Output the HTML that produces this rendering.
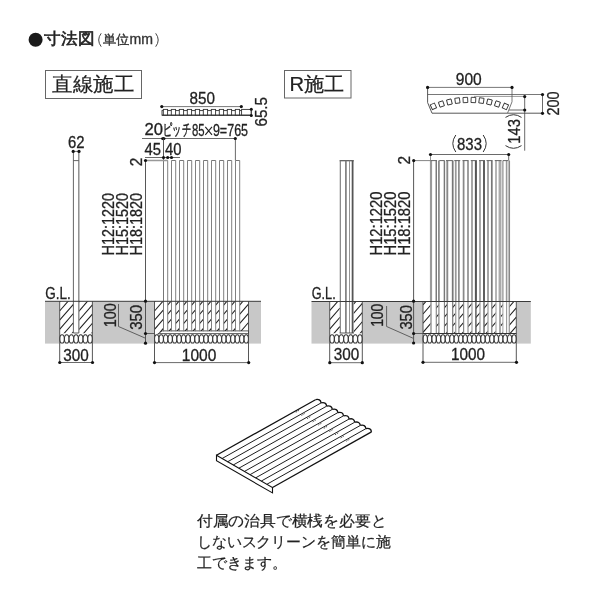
<!DOCTYPE html>
<html><head><meta charset="utf-8"><style>
html,body{margin:0;padding:0;background:#fff;width:600px;height:600px;overflow:hidden}
svg{display:block;will-change:transform}
text{font-family:"Liberation Sans",sans-serif}
</style></head><body>
<svg width="600" height="600" viewBox="0 0 600 600">
<rect width="600" height="600" fill="#fff"/>
<circle cx="35.6" cy="39.7" r="7.0" fill="#1a1a1a"/>
<text x="44.3" y="43.9" font-size="16.3" fill="#222" textLength="50" lengthAdjust="spacingAndGlyphs" stroke="#222" stroke-width="0.6">寸法図</text>
<path d="M101.2,33.3 Q96.2,40 101.2,46.7 M155.7,33.3 Q160.7,40 155.7,46.7" fill="none" stroke="#444" stroke-width="1"/>
<text x="102.5" y="44.1" font-size="13.2" fill="#333" textLength="26.5" lengthAdjust="spacingAndGlyphs" stroke="#333" stroke-width="0.35">単位</text>
<text x="129.6" y="44.3" font-size="14.3" fill="#333" textLength="23.5" lengthAdjust="spacingAndGlyphs" stroke="#333" stroke-width="0.35">mm</text>
<rect x="45.5" y="70.5" width="96" height="28" fill="none" stroke="#666" stroke-width="1"/>
<text x="52" y="91" font-size="20" fill="#222" textLength="82" lengthAdjust="spacingAndGlyphs" stroke="#222" stroke-width="0.2">直線施工</text>
<rect x="284.5" y="70.5" width="66.5" height="27.5" fill="none" stroke="#666" stroke-width="1"/>
<text x="289.5" y="91" font-size="20" fill="#222" textLength="55" lengthAdjust="spacingAndGlyphs" stroke="#222" stroke-width="0.2">R施工</text>
<rect x="45" y="301.3" width="216" height="42.3" fill="#c8c8c8"/>
<rect x="311.5" y="301.5" width="219.3" height="42.1" fill="#c8c8c8"/>
<text x="189.5" y="103.5" font-size="17.3" fill="#222" textLength="25.5" lengthAdjust="spacingAndGlyphs" stroke="#222" stroke-width="0.3">850</text>
<line x1="161.8" y1="106.6" x2="241.3" y2="106.6" stroke="#555" stroke-width="0.8"/>
<rect x="162" y="110.6" width="89.2" height="4.6" fill="#fff" stroke="#333" stroke-width="0.9"/>
<rect x="163.30" y="109.4" width="4.3" height="5.8" fill="#fff" stroke="#333" stroke-width="0.9"/>
<rect x="171.30" y="109.4" width="4.3" height="5.8" fill="#fff" stroke="#333" stroke-width="0.9"/>
<rect x="179.30" y="109.4" width="4.3" height="5.8" fill="#fff" stroke="#333" stroke-width="0.9"/>
<rect x="187.30" y="109.4" width="4.3" height="5.8" fill="#fff" stroke="#333" stroke-width="0.9"/>
<rect x="195.30" y="109.4" width="4.3" height="5.8" fill="#fff" stroke="#333" stroke-width="0.9"/>
<rect x="203.30" y="109.4" width="4.3" height="5.8" fill="#fff" stroke="#333" stroke-width="0.9"/>
<rect x="211.30" y="109.4" width="4.3" height="5.8" fill="#fff" stroke="#333" stroke-width="0.9"/>
<rect x="219.30" y="109.4" width="4.3" height="5.8" fill="#fff" stroke="#333" stroke-width="0.9"/>
<rect x="227.30" y="109.4" width="4.3" height="5.8" fill="#fff" stroke="#333" stroke-width="0.9"/>
<rect x="235.30" y="109.4" width="4.3" height="5.8" fill="#fff" stroke="#333" stroke-width="0.9"/>
<rect x="241.6" y="109.4" width="9.6" height="5.8" fill="#fff" stroke="#333" stroke-width="0.9"/>
<line x1="162" y1="115.2" x2="251.2" y2="115.2" stroke="#333" stroke-width="1.0"/>
<line x1="251.3" y1="109.2" x2="251.3" y2="115.4" stroke="#444" stroke-width="0.8"/>
<text transform="translate(267.2,126.5) rotate(-90)" font-size="16.5" fill="#222" textLength="29.5" lengthAdjust="spacingAndGlyphs" stroke="#222" stroke-width="0.3">65.5</text>
<text x="144.5" y="135.1" font-size="16.2" fill="#222" textLength="18.5" lengthAdjust="spacingAndGlyphs" stroke="#222" stroke-width="0.3">20</text>
<text x="163.3" y="135.2" font-size="15.6" fill="#222" textLength="27.5" lengthAdjust="spacingAndGlyphs" stroke="#222" stroke-width="0.5">ピッチ</text>
<text x="192.0" y="136" font-size="16.5" fill="#222" textLength="12.6" lengthAdjust="spacingAndGlyphs" stroke="#222" stroke-width="0.3">85</text>
<path d="M205.3,126.8 L212.0,134.8 M212.0,126.8 L205.3,134.8" stroke="#222" stroke-width="1.15" fill="none"/>
<text x="212.9" y="136" font-size="16.5" fill="#222" textLength="35.2" lengthAdjust="spacingAndGlyphs" stroke="#222" stroke-width="0.3">9=765</text>
<line x1="142" y1="138.5" x2="235.3" y2="138.5" stroke="#444" stroke-width="0.8"/>
<ellipse cx="163.3" cy="138.6" rx="2.3" ry="1.6" fill="#111"/>
<line x1="235.4" y1="138.5" x2="235.4" y2="160.5" stroke="#444" stroke-width="0.8"/>
<text x="144.5" y="154.6" font-size="16.6" fill="#222" textLength="16.5" lengthAdjust="spacingAndGlyphs" stroke="#222" stroke-width="0.3">45</text>
<text x="165" y="154.6" font-size="16.6" fill="#222" textLength="16.5" lengthAdjust="spacingAndGlyphs" stroke="#222" stroke-width="0.3">40</text>
<line x1="145" y1="157.5" x2="180" y2="157.5" stroke="#444" stroke-width="0.8"/>
<text transform="translate(141.8,166.2) rotate(-90)" font-size="16.5" fill="#222" textLength="8.6" lengthAdjust="spacingAndGlyphs" stroke="#222" stroke-width="0.3">2</text>
<text transform="translate(113.6,255.5) rotate(-90)" font-size="16.2" fill="#222" textLength="62.5" lengthAdjust="spacingAndGlyphs" stroke="#222" stroke-width="0.3">H12:1220</text>
<text transform="translate(127.85,255.5) rotate(-90)" font-size="16.2" fill="#222" textLength="62.5" lengthAdjust="spacingAndGlyphs" stroke="#222" stroke-width="0.3">H15:1520</text>
<text transform="translate(142.1,255.5) rotate(-90)" font-size="16.2" fill="#222" textLength="62.5" lengthAdjust="spacingAndGlyphs" stroke="#222" stroke-width="0.3">H18:1820</text>
<text x="68" y="148.1" font-size="16.4" fill="#222" textLength="16.5" lengthAdjust="spacingAndGlyphs" stroke="#222" stroke-width="0.3">62</text>
<line x1="73.2" y1="151.4" x2="79" y2="151.4" stroke="#444" stroke-width="0.8"/>
<rect x="59.6" y="301.3" width="32.8" height="42" fill="#fff"/>
<clipPath id="c1"><rect x="59.6" y="301.3" width="13.800000000000004" height="31.899999999999977"/></clipPath>
<g clip-path="url(#c1)" stroke="#1e1e1e" stroke-width="1.05">
<line x1="59.6" y1="283.40" x2="73.4" y2="267.53"/>
<line x1="59.6" y1="292.60" x2="73.4" y2="276.73"/>
<line x1="59.6" y1="301.80" x2="73.4" y2="285.93"/>
<line x1="59.6" y1="311.00" x2="73.4" y2="295.13"/>
<line x1="59.6" y1="320.20" x2="73.4" y2="304.33"/>
<line x1="59.6" y1="329.40" x2="73.4" y2="313.53"/>
<line x1="59.6" y1="338.60" x2="73.4" y2="322.73"/>
<line x1="59.6" y1="347.80" x2="73.4" y2="331.93"/>
<line x1="59.6" y1="357.00" x2="73.4" y2="341.13"/>
<line x1="59.6" y1="366.20" x2="73.4" y2="350.33"/>
</g>
<clipPath id="c2"><rect x="78.8" y="301.3" width="13.600000000000009" height="31.899999999999977"/></clipPath>
<g clip-path="url(#c2)" stroke="#1e1e1e" stroke-width="1.05">
<line x1="78.8" y1="283.70" x2="92.4" y2="268.06"/>
<line x1="78.8" y1="292.90" x2="92.4" y2="277.26"/>
<line x1="78.8" y1="302.10" x2="92.4" y2="286.46"/>
<line x1="78.8" y1="311.30" x2="92.4" y2="295.66"/>
<line x1="78.8" y1="320.50" x2="92.4" y2="304.86"/>
<line x1="78.8" y1="329.70" x2="92.4" y2="314.06"/>
<line x1="78.8" y1="338.90" x2="92.4" y2="323.26"/>
<line x1="78.8" y1="348.10" x2="92.4" y2="332.46"/>
<line x1="78.8" y1="357.30" x2="92.4" y2="341.66"/>
<line x1="78.8" y1="366.50" x2="92.4" y2="350.86"/>
</g>
<rect x="59.7" y="333.9" width="32.7" height="9.700000000000035" fill="#fff"/>
<g fill="#fff" stroke="#333" stroke-width="1.05">
<ellipse cx="62.04" cy="338.90" rx="2.29" ry="4.20"/>
<ellipse cx="66.71" cy="338.90" rx="2.29" ry="4.20"/>
<ellipse cx="71.38" cy="338.90" rx="2.29" ry="4.20"/>
<ellipse cx="76.05" cy="338.90" rx="2.29" ry="4.20"/>
<ellipse cx="80.72" cy="338.90" rx="2.29" ry="4.20"/>
<ellipse cx="85.39" cy="338.90" rx="2.29" ry="4.20"/>
<ellipse cx="90.06" cy="338.90" rx="2.29" ry="4.20"/>
</g>
<line x1="73.4" y1="151.4" x2="73.4" y2="333" stroke="#555" stroke-width="0.9"/>
<line x1="78.8" y1="151.4" x2="78.8" y2="333" stroke="#888" stroke-width="1.4"/>
<line x1="73.4" y1="160.6" x2="78.8" y2="160.6" stroke="#555" stroke-width="0.9"/>
<line x1="73.4" y1="333" x2="78.8" y2="333" stroke="#444" stroke-width="0.9"/>
<line x1="59.7" y1="301.3" x2="59.7" y2="362.5" stroke="#444" stroke-width="0.9"/>
<line x1="92.4" y1="301.3" x2="92.4" y2="362.5" stroke="#444" stroke-width="0.9"/>
<rect x="154.5" y="301.3" width="94" height="42" fill="#fff"/>
<clipPath id="c3"><rect x="154.5" y="301.3" width="94.0" height="31.19999999999999"/></clipPath>
<g clip-path="url(#c3)" stroke="#1e1e1e" stroke-width="1.05">
<line x1="154.5" y1="283.40" x2="248.5" y2="175.30"/>
<line x1="154.5" y1="292.60" x2="248.5" y2="184.50"/>
<line x1="154.5" y1="301.80" x2="248.5" y2="193.70"/>
<line x1="154.5" y1="311.00" x2="248.5" y2="202.90"/>
<line x1="154.5" y1="320.20" x2="248.5" y2="212.10"/>
<line x1="154.5" y1="329.40" x2="248.5" y2="221.30"/>
<line x1="154.5" y1="338.60" x2="248.5" y2="230.50"/>
<line x1="154.5" y1="347.80" x2="248.5" y2="239.70"/>
<line x1="154.5" y1="357.00" x2="248.5" y2="248.90"/>
<line x1="154.5" y1="366.20" x2="248.5" y2="258.10"/>
<line x1="154.5" y1="375.40" x2="248.5" y2="267.30"/>
<line x1="154.5" y1="384.60" x2="248.5" y2="276.50"/>
<line x1="154.5" y1="393.80" x2="248.5" y2="285.70"/>
<line x1="154.5" y1="403.00" x2="248.5" y2="294.90"/>
<line x1="154.5" y1="412.20" x2="248.5" y2="304.10"/>
<line x1="154.5" y1="421.40" x2="248.5" y2="313.30"/>
<line x1="154.5" y1="430.60" x2="248.5" y2="322.50"/>
<line x1="154.5" y1="439.80" x2="248.5" y2="331.70"/>
<line x1="154.5" y1="449.00" x2="248.5" y2="340.90"/>
<line x1="154.5" y1="458.20" x2="248.5" y2="350.10"/>
</g>
<rect x="163.50" y="301.3" width="4.2" height="30.3" fill="#fff"/>
<rect x="171.50" y="301.3" width="4.2" height="30.3" fill="#fff"/>
<rect x="179.50" y="301.3" width="4.2" height="30.3" fill="#fff"/>
<rect x="187.50" y="301.3" width="4.2" height="30.3" fill="#fff"/>
<rect x="195.50" y="301.3" width="4.2" height="30.3" fill="#fff"/>
<rect x="203.50" y="301.3" width="4.2" height="30.3" fill="#fff"/>
<rect x="211.50" y="301.3" width="4.2" height="30.3" fill="#fff"/>
<rect x="219.50" y="301.3" width="4.2" height="30.3" fill="#fff"/>
<rect x="227.50" y="301.3" width="4.2" height="30.3" fill="#fff"/>
<rect x="235.50" y="301.3" width="4.2" height="30.3" fill="#fff"/>
<rect x="154.5" y="333.9" width="94.0" height="9.700000000000035" fill="#fff"/>
<g fill="#fff" stroke="#333" stroke-width="1.05">
<ellipse cx="156.74" cy="338.90" rx="2.19" ry="4.20"/>
<ellipse cx="161.21" cy="338.90" rx="2.19" ry="4.20"/>
<ellipse cx="165.69" cy="338.90" rx="2.19" ry="4.20"/>
<ellipse cx="170.17" cy="338.90" rx="2.19" ry="4.20"/>
<ellipse cx="174.64" cy="338.90" rx="2.19" ry="4.20"/>
<ellipse cx="179.12" cy="338.90" rx="2.19" ry="4.20"/>
<ellipse cx="183.60" cy="338.90" rx="2.19" ry="4.20"/>
<ellipse cx="188.07" cy="338.90" rx="2.19" ry="4.20"/>
<ellipse cx="192.55" cy="338.90" rx="2.19" ry="4.20"/>
<ellipse cx="197.02" cy="338.90" rx="2.19" ry="4.20"/>
<ellipse cx="201.50" cy="338.90" rx="2.19" ry="4.20"/>
<ellipse cx="205.98" cy="338.90" rx="2.19" ry="4.20"/>
<ellipse cx="210.45" cy="338.90" rx="2.19" ry="4.20"/>
<ellipse cx="214.93" cy="338.90" rx="2.19" ry="4.20"/>
<ellipse cx="219.40" cy="338.90" rx="2.19" ry="4.20"/>
<ellipse cx="223.88" cy="338.90" rx="2.19" ry="4.20"/>
<ellipse cx="228.36" cy="338.90" rx="2.19" ry="4.20"/>
<ellipse cx="232.83" cy="338.90" rx="2.19" ry="4.20"/>
<ellipse cx="237.31" cy="338.90" rx="2.19" ry="4.20"/>
<ellipse cx="241.79" cy="338.90" rx="2.19" ry="4.20"/>
<ellipse cx="246.26" cy="338.90" rx="2.19" ry="4.20"/>
</g>
<polygon points="157.6,334.2 162.2,330.9 248.5,330.9 248.5,333.6 160,333.6" fill="#fff" stroke="#333" stroke-width="0.8"/>
<line x1="163.5" y1="138.5" x2="163.5" y2="160.5" stroke="#444" stroke-width="0.9"/>
<line x1="163.5" y1="160.5" x2="163.5" y2="331.3" stroke="#777" stroke-width="1.0"/>
<line x1="167.7" y1="160.5" x2="167.7" y2="331.3" stroke="#808080" stroke-width="1.0"/>
<line x1="163.5" y1="160.5" x2="167.7" y2="160.5" stroke="#777" stroke-width="1.0"/>
<line x1="171.5" y1="160.5" x2="171.5" y2="331.3" stroke="#808080" stroke-width="1.0"/>
<line x1="175.7" y1="160.5" x2="175.7" y2="331.3" stroke="#808080" stroke-width="1.0"/>
<line x1="171.5" y1="160.5" x2="175.7" y2="160.5" stroke="#777" stroke-width="1.0"/>
<line x1="179.5" y1="160.5" x2="179.5" y2="331.3" stroke="#808080" stroke-width="1.0"/>
<line x1="183.7" y1="160.5" x2="183.7" y2="331.3" stroke="#808080" stroke-width="1.0"/>
<line x1="179.5" y1="160.5" x2="183.7" y2="160.5" stroke="#777" stroke-width="1.0"/>
<line x1="187.5" y1="160.5" x2="187.5" y2="331.3" stroke="#808080" stroke-width="1.0"/>
<line x1="191.7" y1="160.5" x2="191.7" y2="331.3" stroke="#808080" stroke-width="1.0"/>
<line x1="187.5" y1="160.5" x2="191.7" y2="160.5" stroke="#777" stroke-width="1.0"/>
<line x1="195.5" y1="160.5" x2="195.5" y2="331.3" stroke="#808080" stroke-width="1.0"/>
<line x1="199.7" y1="160.5" x2="199.7" y2="331.3" stroke="#808080" stroke-width="1.0"/>
<line x1="195.5" y1="160.5" x2="199.7" y2="160.5" stroke="#777" stroke-width="1.0"/>
<line x1="203.5" y1="160.5" x2="203.5" y2="331.3" stroke="#808080" stroke-width="1.0"/>
<line x1="207.7" y1="160.5" x2="207.7" y2="331.3" stroke="#808080" stroke-width="1.0"/>
<line x1="203.5" y1="160.5" x2="207.7" y2="160.5" stroke="#777" stroke-width="1.0"/>
<line x1="211.5" y1="160.5" x2="211.5" y2="331.3" stroke="#808080" stroke-width="1.0"/>
<line x1="215.7" y1="160.5" x2="215.7" y2="331.3" stroke="#808080" stroke-width="1.0"/>
<line x1="211.5" y1="160.5" x2="215.7" y2="160.5" stroke="#777" stroke-width="1.0"/>
<line x1="219.5" y1="160.5" x2="219.5" y2="331.3" stroke="#808080" stroke-width="1.0"/>
<line x1="223.7" y1="160.5" x2="223.7" y2="331.3" stroke="#808080" stroke-width="1.0"/>
<line x1="219.5" y1="160.5" x2="223.7" y2="160.5" stroke="#777" stroke-width="1.0"/>
<line x1="227.5" y1="160.5" x2="227.5" y2="331.3" stroke="#808080" stroke-width="1.0"/>
<line x1="231.7" y1="160.5" x2="231.7" y2="331.3" stroke="#808080" stroke-width="1.0"/>
<line x1="227.5" y1="160.5" x2="231.7" y2="160.5" stroke="#777" stroke-width="1.0"/>
<line x1="235.5" y1="160.5" x2="235.5" y2="331.3" stroke="#808080" stroke-width="1.0"/>
<line x1="239.7" y1="160.5" x2="239.7" y2="331.3" stroke="#808080" stroke-width="1.0"/>
<line x1="235.5" y1="160.5" x2="239.7" y2="160.5" stroke="#777" stroke-width="1.0"/>
<line x1="145.5" y1="160.5" x2="168" y2="160.5" stroke="#999" stroke-width="1.5"/>
<line x1="154.5" y1="301.3" x2="154.5" y2="362.6" stroke="#444" stroke-width="0.9"/>
<line x1="248.5" y1="301.3" x2="248.5" y2="362.6" stroke="#444" stroke-width="0.9"/>
<line x1="45" y1="301.3" x2="261" y2="301.3" stroke="#3a3a3a" stroke-width="1.0"/>
<line x1="145.5" y1="160.5" x2="145.5" y2="343.3" stroke="#444" stroke-width="0.9"/>
<line x1="59.8" y1="362.5" x2="92.5" y2="362.5" stroke="#444" stroke-width="0.8"/>
<text x="63.2" y="360.5" font-size="16.3" fill="#222" textLength="25.5" lengthAdjust="spacingAndGlyphs" stroke="#222" stroke-width="0.3">300</text>
<line x1="154.5" y1="362.6" x2="248.7" y2="362.6" stroke="#444" stroke-width="0.8"/>
<text x="181.8" y="360.5" font-size="16.3" fill="#222" textLength="34.5" lengthAdjust="spacingAndGlyphs" stroke="#222" stroke-width="0.3">1000</text>
<line x1="145.5" y1="333.5" x2="154.5" y2="333.5" stroke="#444" stroke-width="0.8"/>
<text transform="translate(115.6,327.3) rotate(-90)" font-size="16.3" fill="#222" textLength="24" lengthAdjust="spacingAndGlyphs" stroke="#222" stroke-width="0.3">100</text>
<text transform="translate(142.2,329.8) rotate(-90)" font-size="16.3" fill="#222" textLength="25" lengthAdjust="spacingAndGlyphs" stroke="#222" stroke-width="0.3">350</text>
<polyline points="118.5,304 118.5,326.5 145,338" fill="none" stroke="#444" stroke-width="0.8"/>
<text x="45.2" y="298.6" font-size="16.6" fill="#222" textLength="25.5" lengthAdjust="spacingAndGlyphs" stroke="#222" stroke-width="0.3">G.L.</text>
<text x="455.8" y="84.5" font-size="17.3" fill="#222" textLength="26" lengthAdjust="spacingAndGlyphs" stroke="#222" stroke-width="0.3">900</text>
<line x1="427.6" y1="87.4" x2="512" y2="87.4" stroke="#555" stroke-width="0.8"/>
<line x1="427.6" y1="94.5" x2="542.5" y2="94.5" stroke="#555" stroke-width="0.8"/>
<line x1="474" y1="96.4" x2="524.7" y2="96.4" stroke="#999" stroke-width="1.0"/>
<path d="M427.6,87.4 L427.6,102.5 L432,113.2 L542.5,113.2" fill="none" stroke="#444" stroke-width="0.9"/>
<path d="M512,87.4 L512,101.8 L507.6,113" fill="none" stroke="#555" stroke-width="0.8"/>
<line x1="509" y1="110" x2="524.7" y2="110" stroke="#555" stroke-width="0.9"/>
<line x1="542.5" y1="94.5" x2="542.5" y2="113.3" stroke="#444" stroke-width="0.8"/>
<text transform="translate(558.9,115.6) rotate(-90)" font-size="16.5" fill="#222" textLength="24" lengthAdjust="spacingAndGlyphs" stroke="#222" stroke-width="0.3">200</text>
<line x1="524.7" y1="96.6" x2="524.7" y2="150.7" stroke="#444" stroke-width="0.8"/>
<path d="M505.5,117.4 Q513.5,112 521.5,117.4 M505.5,145.6 Q513.5,151 521.5,145.6" fill="none" stroke="#333" stroke-width="1"/>
<text transform="translate(519.8,143.7) rotate(-90)" font-size="16.3" fill="#222" textLength="24.5" lengthAdjust="spacingAndGlyphs" stroke="#222" stroke-width="0.3">143</text>
<rect x="431.10" y="103.70" width="4.6" height="5.2" fill="#fff" stroke="#333" stroke-width="0.9" transform="rotate(-24.8 433.4 106.3)"/>
<rect x="439.10" y="101.40" width="4.6" height="5.2" fill="#fff" stroke="#333" stroke-width="0.9" transform="rotate(-19.2 441.4 104.0)"/>
<rect x="447.10" y="99.40" width="4.6" height="5.2" fill="#fff" stroke="#333" stroke-width="0.9" transform="rotate(-13.8 449.4 102.0)"/>
<rect x="455.10" y="98.00" width="4.6" height="5.2" fill="#fff" stroke="#333" stroke-width="0.9" transform="rotate(-8.2 457.4 100.6)"/>
<rect x="463.10" y="97.40" width="4.6" height="5.2" fill="#fff" stroke="#333" stroke-width="0.9" transform="rotate(-2.8 465.4 100.0)"/>
<rect x="471.10" y="97.40" width="4.6" height="5.2" fill="#fff" stroke="#333" stroke-width="0.9" transform="rotate(2.8 473.4 100.0)"/>
<rect x="479.10" y="98.00" width="4.6" height="5.2" fill="#fff" stroke="#333" stroke-width="0.9" transform="rotate(8.2 481.4 100.6)"/>
<rect x="487.10" y="99.40" width="4.6" height="5.2" fill="#fff" stroke="#333" stroke-width="0.9" transform="rotate(13.8 489.4 102.0)"/>
<rect x="495.10" y="101.40" width="4.6" height="5.2" fill="#fff" stroke="#333" stroke-width="0.9" transform="rotate(19.2 497.4 104.0)"/>
<rect x="503.10" y="103.80" width="4.6" height="5.2" fill="#fff" stroke="#333" stroke-width="0.9" transform="rotate(24.8 505.4 106.4)"/>
<path d="M455.8,135 Q449.8,143.5 455.8,152 M483.2,135 Q489.2,143.5 483.2,152" fill="none" stroke="#333" stroke-width="1"/>
<text x="457.0" y="150.2" font-size="16.8" fill="#222" textLength="25" lengthAdjust="spacingAndGlyphs" stroke="#222" stroke-width="0.3">833</text>
<line x1="430.5" y1="154.5" x2="508.7" y2="154.5" stroke="#444" stroke-width="0.8"/>
<line x1="508.7" y1="154.5" x2="508.7" y2="160.5" stroke="#444" stroke-width="0.8"/>
<line x1="430.5" y1="154.5" x2="430.5" y2="160.5" stroke="#777" stroke-width="0.8"/>
<text transform="translate(409.8,164.4) rotate(-90)" font-size="16.5" fill="#222" textLength="8.6" lengthAdjust="spacingAndGlyphs" stroke="#222" stroke-width="0.3">2</text>
<text transform="translate(382.4,255.5) rotate(-90)" font-size="16.2" fill="#222" textLength="64" lengthAdjust="spacingAndGlyphs" stroke="#222" stroke-width="0.3">H12:1220</text>
<text transform="translate(396.29999999999995,255.5) rotate(-90)" font-size="16.2" fill="#222" textLength="64" lengthAdjust="spacingAndGlyphs" stroke="#222" stroke-width="0.3">H15:1520</text>
<text transform="translate(410.2,255.5) rotate(-90)" font-size="16.2" fill="#222" textLength="64" lengthAdjust="spacingAndGlyphs" stroke="#222" stroke-width="0.3">H18:1820</text>
<rect x="329.6" y="301.3" width="32.8" height="42" fill="#fff"/>
<clipPath id="c4"><rect x="329.7" y="301.5" width="10.300000000000011" height="31.69999999999999"/></clipPath>
<g clip-path="url(#c4)" stroke="#1e1e1e" stroke-width="1.05">
<line x1="329.7" y1="292.30" x2="340.0" y2="280.45"/>
<line x1="329.7" y1="301.50" x2="340.0" y2="289.65"/>
<line x1="329.7" y1="310.70" x2="340.0" y2="298.85"/>
<line x1="329.7" y1="319.90" x2="340.0" y2="308.05"/>
<line x1="329.7" y1="329.10" x2="340.0" y2="317.25"/>
<line x1="329.7" y1="338.30" x2="340.0" y2="326.45"/>
<line x1="329.7" y1="347.50" x2="340.0" y2="335.65"/>
<line x1="329.7" y1="356.70" x2="340.0" y2="344.85"/>
</g>
<clipPath id="c5"><rect x="353.3" y="301.5" width="9.0" height="31.69999999999999"/></clipPath>
<g clip-path="url(#c5)" stroke="#1e1e1e" stroke-width="1.05">
<line x1="353.3" y1="286.10" x2="362.3" y2="275.75"/>
<line x1="353.3" y1="295.30" x2="362.3" y2="284.95"/>
<line x1="353.3" y1="304.50" x2="362.3" y2="294.15"/>
<line x1="353.3" y1="313.70" x2="362.3" y2="303.35"/>
<line x1="353.3" y1="322.90" x2="362.3" y2="312.55"/>
<line x1="353.3" y1="332.10" x2="362.3" y2="321.75"/>
<line x1="353.3" y1="341.30" x2="362.3" y2="330.95"/>
<line x1="353.3" y1="350.50" x2="362.3" y2="340.15"/>
<line x1="353.3" y1="359.70" x2="362.3" y2="349.35"/>
</g>
<rect x="329.7" y="333.9" width="32.60000000000002" height="9.700000000000035" fill="#fff"/>
<g fill="#fff" stroke="#333" stroke-width="1.05">
<ellipse cx="332.03" cy="338.90" rx="2.28" ry="4.20"/>
<ellipse cx="336.69" cy="338.90" rx="2.28" ry="4.20"/>
<ellipse cx="341.34" cy="338.90" rx="2.28" ry="4.20"/>
<ellipse cx="346.00" cy="338.90" rx="2.28" ry="4.20"/>
<ellipse cx="350.66" cy="338.90" rx="2.28" ry="4.20"/>
<ellipse cx="355.31" cy="338.90" rx="2.28" ry="4.20"/>
<ellipse cx="359.97" cy="338.90" rx="2.28" ry="4.20"/>
</g>
<rect x="339.8" y="160.7" width="13.8" height="172.3" fill="#fff"/>
<line x1="339.6" y1="160.7" x2="353.8" y2="160.7" stroke="#555" stroke-width="1.2"/>
<line x1="340.3" y1="160.7" x2="340.3" y2="333" stroke="#777" stroke-width="1.1"/>
<line x1="345.9" y1="160.7" x2="345.9" y2="333" stroke="#777" stroke-width="1.6"/>
<line x1="349.5" y1="160.7" x2="349.5" y2="333" stroke="#888" stroke-width="0.9"/>
<line x1="352.6" y1="160.7" x2="352.6" y2="333" stroke="#555" stroke-width="1.8"/>
<line x1="339.7" y1="333" x2="353.9" y2="333" stroke="#444" stroke-width="0.9"/>
<line x1="329.7" y1="301.3" x2="329.7" y2="362.7" stroke="#444" stroke-width="0.9"/>
<line x1="362.3" y1="301.3" x2="362.3" y2="362.7" stroke="#444" stroke-width="0.9"/>
<rect x="423" y="301.3" width="93.4" height="42" fill="#fff"/>
<clipPath id="c6"><rect x="423" y="301.5" width="93.29999999999995" height="31.80000000000001"/></clipPath>
<g clip-path="url(#c6)" stroke="#1e1e1e" stroke-width="1.05">
<line x1="423" y1="286.40" x2="516.3" y2="179.11"/>
<line x1="423" y1="295.60" x2="516.3" y2="188.31"/>
<line x1="423" y1="304.80" x2="516.3" y2="197.51"/>
<line x1="423" y1="314.00" x2="516.3" y2="206.71"/>
<line x1="423" y1="323.20" x2="516.3" y2="215.91"/>
<line x1="423" y1="332.40" x2="516.3" y2="225.11"/>
<line x1="423" y1="341.60" x2="516.3" y2="234.31"/>
<line x1="423" y1="350.80" x2="516.3" y2="243.51"/>
<line x1="423" y1="360.00" x2="516.3" y2="252.71"/>
<line x1="423" y1="369.20" x2="516.3" y2="261.91"/>
<line x1="423" y1="378.40" x2="516.3" y2="271.11"/>
<line x1="423" y1="387.60" x2="516.3" y2="280.31"/>
<line x1="423" y1="396.80" x2="516.3" y2="289.51"/>
<line x1="423" y1="406.00" x2="516.3" y2="298.71"/>
<line x1="423" y1="415.20" x2="516.3" y2="307.91"/>
<line x1="423" y1="424.40" x2="516.3" y2="317.11"/>
<line x1="423" y1="433.60" x2="516.3" y2="326.31"/>
<line x1="423" y1="442.80" x2="516.3" y2="335.51"/>
<line x1="423" y1="452.00" x2="516.3" y2="344.71"/>
</g>
<rect x="430.8" y="301.3" width="5.5" height="32" fill="#fff"/>
<rect x="438.7" y="301.3" width="5.600000000000023" height="32" fill="#fff"/>
<rect x="447" y="301.3" width="5.5" height="32" fill="#fff"/>
<rect x="455.4" y="301.3" width="3.8000000000000114" height="32" fill="#fff"/>
<rect x="463.5" y="301.3" width="4.5" height="32" fill="#fff"/>
<rect x="471.8" y="301.3" width="4.199999999999989" height="32" fill="#fff"/>
<rect x="479.6" y="301.3" width="4.599999999999966" height="32" fill="#fff"/>
<rect x="487.7" y="301.3" width="4.300000000000011" height="32" fill="#fff"/>
<rect x="495.6" y="301.3" width="4.399999999999977" height="32" fill="#fff"/>
<rect x="502.6" y="301.3" width="6.699999999999989" height="32" fill="#fff"/>
<rect x="423" y="333.9" width="93.29999999999995" height="9.700000000000035" fill="#fff"/>
<g fill="#fff" stroke="#333" stroke-width="1.05">
<ellipse cx="425.22" cy="338.90" rx="2.17" ry="4.20"/>
<ellipse cx="429.66" cy="338.90" rx="2.17" ry="4.20"/>
<ellipse cx="434.11" cy="338.90" rx="2.17" ry="4.20"/>
<ellipse cx="438.55" cy="338.90" rx="2.17" ry="4.20"/>
<ellipse cx="442.99" cy="338.90" rx="2.17" ry="4.20"/>
<ellipse cx="447.44" cy="338.90" rx="2.17" ry="4.20"/>
<ellipse cx="451.88" cy="338.90" rx="2.17" ry="4.20"/>
<ellipse cx="456.32" cy="338.90" rx="2.17" ry="4.20"/>
<ellipse cx="460.76" cy="338.90" rx="2.17" ry="4.20"/>
<ellipse cx="465.21" cy="338.90" rx="2.17" ry="4.20"/>
<ellipse cx="469.65" cy="338.90" rx="2.17" ry="4.20"/>
<ellipse cx="474.09" cy="338.90" rx="2.17" ry="4.20"/>
<ellipse cx="478.54" cy="338.90" rx="2.17" ry="4.20"/>
<ellipse cx="482.98" cy="338.90" rx="2.17" ry="4.20"/>
<ellipse cx="487.42" cy="338.90" rx="2.17" ry="4.20"/>
<ellipse cx="491.86" cy="338.90" rx="2.17" ry="4.20"/>
<ellipse cx="496.31" cy="338.90" rx="2.17" ry="4.20"/>
<ellipse cx="500.75" cy="338.90" rx="2.17" ry="4.20"/>
<ellipse cx="505.19" cy="338.90" rx="2.17" ry="4.20"/>
<ellipse cx="509.64" cy="338.90" rx="2.17" ry="4.20"/>
<ellipse cx="514.08" cy="338.90" rx="2.17" ry="4.20"/>
</g>
<line x1="431" y1="160.5" x2="431" y2="301.3" stroke="#999" stroke-width="2.175"/>
<line x1="431" y1="301.3" x2="431" y2="333.3" stroke="#999" stroke-width="1.5"/>
<line x1="436.25" y1="160.5" x2="436.25" y2="301.3" stroke="#777" stroke-width="1.45"/>
<line x1="436.25" y1="301.3" x2="436.25" y2="333.3" stroke="#777" stroke-width="1.0"/>
<line x1="438.9" y1="160.5" x2="438.9" y2="301.3" stroke="#888" stroke-width="1.74"/>
<line x1="438.9" y1="301.3" x2="438.9" y2="333.3" stroke="#888" stroke-width="1.2"/>
<line x1="444.4" y1="160.5" x2="444.4" y2="301.3" stroke="#777" stroke-width="1.45"/>
<line x1="444.4" y1="301.3" x2="444.4" y2="333.3" stroke="#777" stroke-width="1.0"/>
<line x1="447.3" y1="160.5" x2="447.3" y2="301.3" stroke="#888" stroke-width="1.885"/>
<line x1="447.3" y1="301.3" x2="447.3" y2="333.3" stroke="#888" stroke-width="1.3"/>
<line x1="452.7" y1="160.5" x2="452.7" y2="301.3" stroke="#777" stroke-width="1.74"/>
<line x1="452.7" y1="301.3" x2="452.7" y2="333.3" stroke="#777" stroke-width="1.2"/>
<line x1="455.75" y1="160.5" x2="455.75" y2="301.3" stroke="#999" stroke-width="1.74"/>
<line x1="455.75" y1="301.3" x2="455.75" y2="333.3" stroke="#999" stroke-width="1.2"/>
<line x1="458.9" y1="160.5" x2="458.9" y2="301.3" stroke="#777" stroke-width="1.45"/>
<line x1="458.9" y1="301.3" x2="458.9" y2="333.3" stroke="#777" stroke-width="1.0"/>
<line x1="463.6" y1="160.5" x2="463.6" y2="301.3" stroke="#888" stroke-width="1.74"/>
<line x1="463.6" y1="301.3" x2="463.6" y2="333.3" stroke="#888" stroke-width="1.2"/>
<line x1="468" y1="160.5" x2="468" y2="301.3" stroke="#999" stroke-width="1.885"/>
<line x1="468" y1="301.3" x2="468" y2="333.3" stroke="#999" stroke-width="1.3"/>
<line x1="472" y1="160.5" x2="472" y2="301.3" stroke="#999" stroke-width="1.74"/>
<line x1="472" y1="301.3" x2="472" y2="333.3" stroke="#999" stroke-width="1.2"/>
<line x1="475.9" y1="160.5" x2="475.9" y2="301.3" stroke="#555" stroke-width="2.03"/>
<line x1="475.9" y1="301.3" x2="475.9" y2="333.3" stroke="#555" stroke-width="1.4"/>
<line x1="480" y1="160.5" x2="480" y2="301.3" stroke="#888" stroke-width="1.45"/>
<line x1="480" y1="301.3" x2="480" y2="333.3" stroke="#888" stroke-width="1.0"/>
<line x1="484" y1="160.5" x2="484" y2="301.3" stroke="#555" stroke-width="1.885"/>
<line x1="484" y1="301.3" x2="484" y2="333.3" stroke="#555" stroke-width="1.3"/>
<line x1="488" y1="160.5" x2="488" y2="301.3" stroke="#999" stroke-width="1.74"/>
<line x1="488" y1="301.3" x2="488" y2="333.3" stroke="#999" stroke-width="1.2"/>
<line x1="491.8" y1="160.5" x2="491.8" y2="301.3" stroke="#777" stroke-width="1.74"/>
<line x1="491.8" y1="301.3" x2="491.8" y2="333.3" stroke="#777" stroke-width="1.2"/>
<line x1="496" y1="160.5" x2="496" y2="301.3" stroke="#999" stroke-width="1.45"/>
<line x1="496" y1="301.3" x2="496" y2="333.3" stroke="#999" stroke-width="1.0"/>
<line x1="500" y1="160.5" x2="500" y2="301.3" stroke="#aaa" stroke-width="2.9"/>
<line x1="500" y1="301.3" x2="500" y2="333.3" stroke="#aaa" stroke-width="2.0"/>
<line x1="502.9" y1="160.5" x2="502.9" y2="301.3" stroke="#888" stroke-width="1.16"/>
<line x1="502.9" y1="301.3" x2="502.9" y2="333.3" stroke="#888" stroke-width="0.8"/>
<line x1="506.6" y1="160.5" x2="506.6" y2="301.3" stroke="#999" stroke-width="1.595"/>
<line x1="506.6" y1="301.3" x2="506.6" y2="333.3" stroke="#999" stroke-width="1.1"/>
<line x1="509.25" y1="160.5" x2="509.25" y2="301.3" stroke="#888" stroke-width="1.595"/>
<line x1="509.25" y1="301.3" x2="509.25" y2="333.3" stroke="#888" stroke-width="1.1"/>
<g stroke="#666" stroke-width="1">
<line x1="431" y1="160.6" x2="437" y2="160.6"/>
<line x1="439.25" y1="160.6" x2="444.5" y2="160.6"/>
<line x1="446" y1="160.6" x2="452.75" y2="160.6"/>
<line x1="454.25" y1="160.6" x2="460.25" y2="160.6"/>
<line x1="462.5" y1="160.6" x2="468.5" y2="160.6"/>
<line x1="470.75" y1="160.6" x2="476.75" y2="160.6"/>
<line x1="479" y1="160.6" x2="485" y2="160.6"/>
<line x1="486.5" y1="160.6" x2="492.5" y2="160.6"/>
<line x1="494.75" y1="160.6" x2="501.5" y2="160.6"/>
<line x1="503" y1="160.6" x2="508.25" y2="160.6"/>
</g>
<line x1="423" y1="333.5" x2="516.3" y2="333.5" stroke="#333" stroke-width="1.0"/>
<line x1="423" y1="301.3" x2="423" y2="362.3" stroke="#444" stroke-width="0.9"/>
<line x1="516.3" y1="301.3" x2="516.3" y2="362.7" stroke="#444" stroke-width="0.9"/>
<line x1="311.5" y1="301.5" x2="530.8" y2="301.5" stroke="#3a3a3a" stroke-width="1.0"/>
<line x1="413.7" y1="160.6" x2="431" y2="160.6" stroke="#777" stroke-width="0.9"/>
<line x1="413.6" y1="160.6" x2="413.6" y2="343.3" stroke="#444" stroke-width="0.9"/>
<line x1="329.8" y1="362.7" x2="362.3" y2="362.7" stroke="#444" stroke-width="0.8"/>
<text x="333.7" y="359.8" font-size="16.3" fill="#222" textLength="25.5" lengthAdjust="spacingAndGlyphs" stroke="#222" stroke-width="0.3">300</text>
<line x1="423" y1="362.3" x2="516.5" y2="362.3" stroke="#444" stroke-width="0.8"/>
<text x="451" y="359.8" font-size="16.3" fill="#222" textLength="34" lengthAdjust="spacingAndGlyphs" stroke="#222" stroke-width="0.3">1000</text>
<line x1="413.6" y1="333.5" x2="423" y2="333.5" stroke="#444" stroke-width="0.8"/>
<text transform="translate(383.4,326.8) rotate(-90)" font-size="16.3" fill="#222" textLength="23" lengthAdjust="spacingAndGlyphs" stroke="#222" stroke-width="0.3">100</text>
<text transform="translate(411.5,329.6) rotate(-90)" font-size="16.3" fill="#222" textLength="24.5" lengthAdjust="spacingAndGlyphs" stroke="#222" stroke-width="0.3">350</text>
<polyline points="386.6,306 386.6,326.5 413,338.2" fill="none" stroke="#444" stroke-width="0.8"/>
<text x="311.7" y="298.6" font-size="16.6" fill="#222" textLength="24" lengthAdjust="spacingAndGlyphs" stroke="#222" stroke-width="0.3">G.L.</text>
<polygon points="216.5,455.3 272.5,487.5 272.5,492.9 216.5,460.7" fill="#fff" stroke="#111" stroke-width="1.1"/>
<line x1="216.5" y1="455.3" x2="315.5" y2="399.7" stroke="#111" stroke-width="1.3"/>
<line x1="222.1" y1="458.52" x2="321.1" y2="402.92" stroke="#111" stroke-width="0.95"/>
<line x1="227.7" y1="461.74" x2="326.7" y2="406.14" stroke="#111" stroke-width="0.95"/>
<line x1="233.3" y1="464.96" x2="332.3" y2="409.36" stroke="#111" stroke-width="0.95"/>
<line x1="238.9" y1="468.18" x2="337.9" y2="412.58" stroke="#111" stroke-width="0.95"/>
<line x1="244.5" y1="471.4" x2="343.5" y2="415.8" stroke="#111" stroke-width="0.95"/>
<line x1="250.1" y1="474.62" x2="349.1" y2="419.02" stroke="#111" stroke-width="0.95"/>
<line x1="255.7" y1="477.84" x2="354.7" y2="422.24" stroke="#111" stroke-width="0.95"/>
<line x1="261.3" y1="481.06" x2="360.3" y2="425.46" stroke="#111" stroke-width="0.95"/>
<line x1="266.9" y1="484.28" x2="365.9" y2="428.68" stroke="#111" stroke-width="0.95"/>
<line x1="272.5" y1="487.5" x2="371.5" y2="431.9" stroke="#111" stroke-width="1.3"/>
<path d="M315.50,399.70 Q320.50,398.51 321.10,402.92" fill="none" stroke="#111" stroke-width="1.3"/>
<path d="M321.10,402.92 Q326.10,401.73 326.70,406.14" fill="none" stroke="#111" stroke-width="1.3"/>
<path d="M326.70,406.14 Q331.70,404.95 332.30,409.36" fill="none" stroke="#111" stroke-width="1.3"/>
<path d="M332.30,409.36 Q337.30,408.17 337.90,412.58" fill="none" stroke="#111" stroke-width="1.3"/>
<path d="M337.90,412.58 Q342.90,411.39 343.50,415.80" fill="none" stroke="#111" stroke-width="1.3"/>
<path d="M343.50,415.80 Q348.50,414.61 349.10,419.02" fill="none" stroke="#111" stroke-width="1.3"/>
<path d="M349.10,419.02 Q354.10,417.83 354.70,422.24" fill="none" stroke="#111" stroke-width="1.3"/>
<path d="M354.70,422.24 Q359.70,421.05 360.30,425.46" fill="none" stroke="#111" stroke-width="1.3"/>
<path d="M360.30,425.46 Q365.30,424.27 365.90,428.68" fill="none" stroke="#111" stroke-width="1.3"/>
<path d="M365.90,428.68 Q370.90,427.49 371.50,431.90" fill="none" stroke="#111" stroke-width="1.3"/>
<g stroke="#333" stroke-width="0.85"><line x1="295.82" y1="412.24" x2="297.02" y2="411.54"/><line x1="297.82" y1="411.04" x2="299.02" y2="410.34"/></g>
<g stroke="#333" stroke-width="0.85"><line x1="301.42" y1="415.46" x2="302.62" y2="414.76"/><line x1="303.42" y1="414.26" x2="304.62" y2="413.56"/></g>
<g stroke="#333" stroke-width="0.85"><line x1="307.02" y1="418.68" x2="308.22" y2="417.98"/><line x1="309.02" y1="417.48" x2="310.22" y2="416.78"/></g>
<g stroke="#333" stroke-width="0.85"><line x1="312.62" y1="421.90" x2="313.82" y2="421.20"/><line x1="314.62" y1="420.70" x2="315.82" y2="420.00"/></g>
<g stroke="#333" stroke-width="0.85"><line x1="318.22" y1="425.12" x2="319.42" y2="424.42"/><line x1="320.22" y1="423.92" x2="321.42" y2="423.22"/></g>
<g stroke="#333" stroke-width="0.85"><line x1="323.82" y1="428.34" x2="325.02" y2="427.64"/><line x1="325.82" y1="427.14" x2="327.02" y2="426.44"/></g>
<g stroke="#333" stroke-width="0.85"><line x1="329.42" y1="431.56" x2="330.62" y2="430.86"/><line x1="331.42" y1="430.36" x2="332.62" y2="429.66"/></g>
<g stroke="#333" stroke-width="0.85"><line x1="335.02" y1="434.78" x2="336.22" y2="434.08"/><line x1="337.02" y1="433.58" x2="338.22" y2="432.88"/></g>
<g stroke="#333" stroke-width="0.85"><line x1="340.62" y1="438.00" x2="341.82" y2="437.30"/><line x1="342.62" y1="436.80" x2="343.82" y2="436.10"/></g>
<g stroke="#333" stroke-width="0.85"><line x1="346.22" y1="441.22" x2="347.42" y2="440.52"/><line x1="348.22" y1="440.02" x2="349.42" y2="439.32"/></g>
<text x="196.8" y="526.2" font-size="15.3" fill="#222" textLength="189.5" lengthAdjust="spacingAndGlyphs" stroke="#222" stroke-width="0.2">付属の治具で横桟を必要と</text>
<text x="196.8" y="547.2" font-size="15.3" fill="#222" textLength="194" lengthAdjust="spacingAndGlyphs" stroke="#222" stroke-width="0.2">しないスクリーンを簡単に施</text>
<text x="196.8" y="567.7" font-size="15.3" fill="#222" textLength="90" lengthAdjust="spacingAndGlyphs" stroke="#222" stroke-width="0.2">工できます。</text>
<circle cx="161.8" cy="106.6" r="1.6" fill="#111"/>
<circle cx="241.3" cy="106.6" r="1.6" fill="#111"/>
<circle cx="251.3" cy="109.2" r="1.5" fill="#111"/>
<circle cx="251.3" cy="115.4" r="1.5" fill="#111"/>
<circle cx="235.3" cy="138.5" r="1.6" fill="#111"/>
<circle cx="163.5" cy="157.5" r="1.6" fill="#111"/>
<circle cx="167.7" cy="157.5" r="1.6" fill="#111"/>
<circle cx="171.5" cy="157.5" r="1.6" fill="#111"/>
<circle cx="73.2" cy="151.4" r="1.6" fill="#111"/>
<circle cx="79" cy="151.4" r="1.6" fill="#111"/>
<circle cx="145.5" cy="160.5" r="1.6" fill="#111"/>
<circle cx="59.8" cy="362.5" r="1.6" fill="#111"/>
<circle cx="92.5" cy="362.5" r="1.6" fill="#111"/>
<circle cx="154.5" cy="362.6" r="1.6" fill="#111"/>
<circle cx="248.7" cy="362.6" r="1.6" fill="#111"/>
<circle cx="145.5" cy="301.2" r="1.6" fill="#111"/>
<circle cx="145.5" cy="333.5" r="1.6" fill="#111"/>
<circle cx="145.5" cy="343.2" r="1.6" fill="#111"/>
<circle cx="427.6" cy="87.4" r="1.6" fill="#111"/>
<circle cx="512" cy="87.4" r="1.6" fill="#111"/>
<circle cx="542.5" cy="94.6" r="1.6" fill="#111"/>
<circle cx="542.5" cy="113.3" r="1.6" fill="#111"/>
<circle cx="524.7" cy="96.6" r="1.6" fill="#111"/>
<circle cx="524.7" cy="110" r="1.6" fill="#111"/>
<circle cx="430.5" cy="154.5" r="1.6" fill="#111"/>
<circle cx="508.7" cy="154.5" r="1.6" fill="#111"/>
<circle cx="413.7" cy="160.6" r="1.6" fill="#111"/>
<circle cx="329.8" cy="362.7" r="1.6" fill="#111"/>
<circle cx="362.3" cy="362.7" r="1.6" fill="#111"/>
<circle cx="423" cy="362.3" r="1.6" fill="#111"/>
<circle cx="516.5" cy="362.3" r="1.6" fill="#111"/>
<circle cx="413.6" cy="301.2" r="1.6" fill="#111"/>
<circle cx="413.6" cy="333.5" r="1.6" fill="#111"/>
<circle cx="413.6" cy="343" r="1.6" fill="#111"/>
</svg>
</body></html>
